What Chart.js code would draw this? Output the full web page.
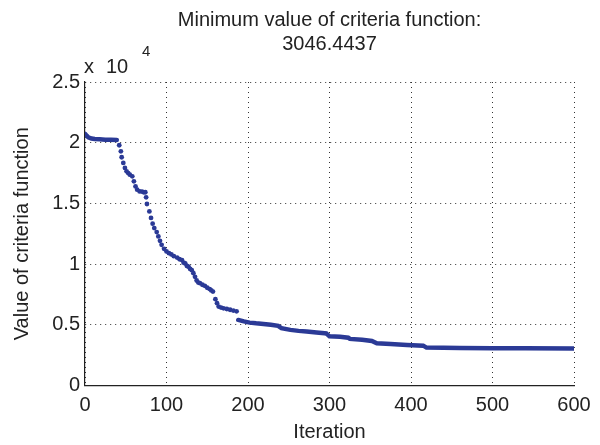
<!DOCTYPE html>
<html>
<head>
<meta charset="utf-8">
<script src="https://cdn.jsdelivr.net/npm/chart.js@4"></script>
<style>
  html, body { margin: 0; padding: 0; background: #fff; }
  #wrap { width: 600px; height: 445px; }
</style>
</head>
<body>
<div id="wrap"><canvas id="chart" width="600" height="445"></canvas></div>
<script>
const plateauIter = [0, 2, 4, 8, 12, 18, 25, 32, 39];
const plateauVal = [20730, 20580, 20450, 20340, 20300, 20280, 20250, 20240, 20230];

const dropIter = [42, 44, 45, 47, 49, 51, 53, 55, 58, 60, 62, 64, 67, 70, 72, 74, 75, 76, 79, 81, 83, 85, 88, 90, 92, 94, 97,
  100, 103, 106, 109, 113, 116, 119, 121, 123, 125, 127, 129, 131, 133, 135, 137, 139, 141, 144, 147, 150, 153, 155, 157,
  160, 162, 164, 167, 170, 174, 178, 182, 186];
const dropVal = [19790, 19290, 18800, 18330, 17920, 17640, 17500, 17370, 17230, 16820, 16400, 16130, 15990, 15970, 15910, 15920, 15500, 14950, 14340, 13800, 13330, 12970, 12640, 12280, 11920, 11590, 11260,
  11040, 10900, 10800, 10650, 10540, 10400, 10330, 10120, 10050, 9850, 9780, 9600, 9500, 9250, 8950, 8650, 8480, 8430, 8300, 8210, 8050, 7940, 7830, 7740,
  7110, 6780, 6500, 6420, 6360, 6300, 6240, 6170, 6110];

const tailIter = [188, 195, 202, 210, 219, 228, 237, 241, 252, 262, 272, 284, 294, 296, 300, 313, 323, 325, 340, 352, 358, 375, 395, 415, 419, 440, 460, 500, 540, 600];
const tailVal = [5400, 5280, 5180, 5120, 5070, 5000, 4910, 4720, 4580, 4500, 4440, 4370, 4310, 4290, 4050, 4020, 3940, 3840, 3760, 3670, 3480, 3420, 3340, 3280, 3120, 3100, 3080, 3070, 3060, 3046.4437];

const xTicks = [0, 100, 200, 300, 400, 500, 600];
const yTicks = [0, 5000, 10000, 15000, 20000, 25000];
const yTickLabels = ['0', '0.5', '1', '1.5', '2', '2.5'];
const titleLines = ['Minimum value of criteria function:', '3046.4437'];

const toPts = (xs, ys) => xs.map((x, i) => ({ x, y: ys[i] }));
const blue = '#2b3a96';
const FONT = "'Liberation Sans', Arial, Helvetica, sans-serif";

// title centred over the plot area plus the "x 10^4" exponent label
const headerPlugin = {
  id: 'header',
  afterDraw(chart) {
    const { ctx, chartArea } = chart;
    ctx.save();
    ctx.fillStyle = '#222';
    ctx.textAlign = 'center';
    ctx.textBaseline = 'middle';
    ctx.font = `20px ${FONT}`;
    const cx = (chartArea.left + chartArea.right) / 2;
    ctx.fillText(titleLines[0], cx, 20);
    ctx.fillText(titleLines[1], cx, 44);
    ctx.textAlign = 'left';
    ctx.fillText('x', chartArea.left - 1, 67);
    ctx.fillText('10', chartArea.left + 21, 67);
    ctx.font = `15px ${FONT}`;
    ctx.fillText('4', chartArea.left + 57, 52);
    ctx.restore();
  },
};

new Chart(document.getElementById('chart'), {
  type: 'scatter',
  data: {
    datasets: [
      { data: toPts(plateauIter, plateauVal), showLine: true, borderColor: blue, borderWidth: 4.5, borderCapStyle: 'round', pointRadius: 0 },
      { data: toPts(dropIter, dropVal), showLine: false, backgroundColor: blue, borderColor: blue, borderWidth: 0, pointRadius: 2.4 },
      { data: toPts(tailIter, tailVal), showLine: true, borderColor: blue, borderWidth: 4.5, borderCapStyle: 'round', pointRadius: 0 },
    ],
  },
  options: {
    responsive: false,
    animation: false,
    layout: { padding: { top: 82, right: 26, left: 0, bottom: 0 } },
    plugins: { legend: { display: false }, tooltip: { enabled: false }, title: { display: false } },
    scales: {
      x: {
        type: 'linear', min: 0, max: 600,
        afterBuildTicks: (s) => { s.ticks = xTicks.map((v) => ({ value: v })); },
        afterFit: (s) => { s.height = 59.5; },
        ticks: { color: '#222', font: { family: FONT, size: 20 }, padding: 8, callback: (v) => String(v) },
        grid: { drawTicks: false, color: '#333', lineWidth: 1 },
        border: { display: true, color: '#222', width: 1.2, dash: [1, 4] },
        title: { display: true, text: 'Iteration', color: '#222', font: { family: FONT, size: 20 }, padding: { top: 0, bottom: 1 } },
      },
      y: {
        type: 'linear', min: 0, max: 25000,
        afterBuildTicks: (s) => { s.ticks = yTicks.map((v) => ({ value: v })); },
        afterFit: (s) => { s.width = 85; },
        ticks: { color: '#222', font: { family: FONT, size: 20 }, padding: 5, callback: (v) => yTickLabels[yTicks.indexOf(v)] },
        grid: { drawTicks: false, color: '#333', lineWidth: 1 },
        border: { display: true, color: '#222', width: 1.2, dash: [1, 4] },
        title: { display: true, text: 'Value of criteria function', color: '#222', font: { family: FONT, size: 20 }, padding: { top: 10, bottom: 0 } },
      },
    },
  },
  plugins: [headerPlugin],
});
</script>
</body>
</html>
